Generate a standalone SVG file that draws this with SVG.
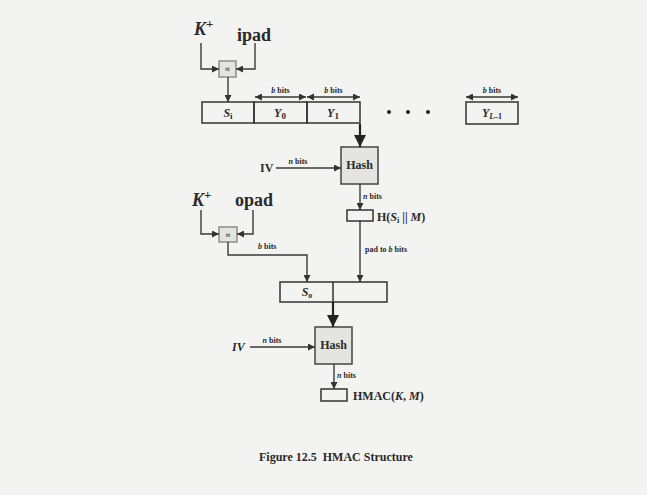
<svg xmlns="http://www.w3.org/2000/svg" width="647" height="495" viewBox="0 0 647 495">
<defs>
<marker id="ah" viewBox="0 0 10 10" refX="10" refY="5" markerWidth="7" markerHeight="7" markerUnits="userSpaceOnUse" orient="auto-start-reverse"><path d="M0,0L10,5L0,10z" fill="#333"/></marker>
<marker id="big" viewBox="0 0 10 10" refX="10" refY="5" markerWidth="12" markerHeight="14" markerUnits="userSpaceOnUse" orient="auto"><path d="M0,0L10,5L0,10z" fill="#222"/></marker>
</defs>
<style>
.bg{fill:#f3f3f2}
.ln{fill:none;stroke:#3a3a3a;stroke-width:1.4}
.thick{fill:none;stroke:#222;stroke-width:2.2}
.box{fill:none;stroke:#333;stroke-width:1.5}
.hash{fill:#e4e4e0;stroke:#444;stroke-width:1.5}
.xor{fill:#e4e4e0;stroke:#777;stroke-width:1.2}
text{font-family:"Liberation Serif",serif;font-weight:bold;fill:#2a2a2a}
.big{font-size:18px}
.lab{font-size:12px}
.sm{font-size:8px}
.it{font-style:italic}
</style>
<rect class="bg" x="0" y="0" width="647" height="495"/>

<g id="kplus1"><text class="big it" x="194" y="35">K<tspan font-size="13" dy="-7" font-style="normal">+</tspan></text></g>
<g id="ipad"><text class="big" x="237" y="41">ipad</text></g>
<g id="xor1"><rect class="xor" x="219" y="61" width="17" height="16"/><text class="sm" x="227.5" y="72" text-anchor="middle" font-size="6">≈</text></g>

<g id="rowSi"><rect class="box" x="202" y="102" width="52" height="21"/><text class="lab it" x="228" y="117" text-anchor="middle">S<tspan font-size="9" dy="2" font-style="normal">i</tspan></text></g>
<g id="rowY0"><rect class="box" x="254" y="102" width="53" height="21"/><text class="lab it" x="280" y="117" text-anchor="middle">Y<tspan font-size="9" dy="2" font-style="normal">0</tspan></text></g>
<g id="rowY1"><rect class="box" x="307" y="102" width="53" height="21"/><text class="lab it" x="333" y="117" text-anchor="middle">Y<tspan font-size="9" dy="2" font-style="normal">1</tspan></text></g>
<g id="dots"><circle cx="389" cy="112" r="2" fill="#222"/><circle cx="408" cy="112" r="2" fill="#222"/><circle cx="428" cy="112" r="2" fill="#222"/></g>
<g id="rowYL"><rect class="box" x="466" y="102" width="52" height="22"/><text class="lab it" x="492" y="117" text-anchor="middle">Y<tspan font-size="8" dy="2">L</tspan><tspan font-size="8" font-style="normal">–1</tspan></text></g>

<g id="hash1"><rect class="hash" x="341" y="147" width="37" height="37"/><text class="lab" x="359.5" y="169" text-anchor="middle">Hash</text></g>
<g id="iv1"><text class="lab" x="260" y="172">IV</text></g>
<g id="inner"><rect class="box" x="347" y="210" width="26" height="11"/><text class="lab" x="377" y="221">H(<tspan font-style="italic">S</tspan><tspan font-size="8" dy="2">i</tspan><tspan dy="-2"> || </tspan><tspan font-style="italic">M</tspan>)</text></g>

<g id="kplus2"><text class="big it" x="192" y="206">K<tspan font-size="13" dy="-7" font-style="normal">+</tspan></text></g>
<g id="opad"><text class="big" x="235" y="206">opad</text></g>
<g id="xor2"><rect class="xor" x="219" y="227" width="18" height="15"/><text class="sm" x="228" y="237.5" text-anchor="middle" font-size="6">≈</text></g>

<g id="So"><rect class="box" x="280" y="282" width="107" height="20"/><line class="box" x1="333" y1="282" x2="333" y2="302"/><text class="lab it" x="307" y="296" text-anchor="middle">S<tspan font-size="8" dy="2" font-style="normal">o</tspan></text></g>

<g id="hash2"><rect class="hash" x="315" y="327" width="37" height="37"/><text class="lab" x="333.5" y="349" text-anchor="middle">Hash</text></g>
<g id="iv2"><text class="lab it" x="232" y="351">IV</text></g>
<g id="hmac"><rect class="box" x="321" y="389" width="26" height="12"/><text class="lab" x="353" y="400">HMAC(<tspan font-style="italic">K</tspan>, <tspan font-style="italic">M</tspan>)</text></g>

<g id="caption"><text class="lab" x="259" y="461" font-size="13">Figure 12.5&#160; HMAC Structure</text></g>

<g id="connectors">
<path class="ln" d="M201,43V69H219" marker-end="url(#ah)"/>
<path class="ln" d="M255,43V69H236" marker-end="url(#ah)"/>
<path class="ln" d="M228,77V102" marker-end="url(#ah)"/>
<path class="ln" d="M255,97H306" marker-start="url(#ah)" marker-end="url(#ah)"/>
<path class="ln" d="M307,97H360" marker-start="url(#ah)" marker-end="url(#ah)"/>
<path class="ln" d="M466,97H518" marker-start="url(#ah)" marker-end="url(#ah)"/>
<text class="sm" x="280.5" y="93" text-anchor="middle"><tspan font-style="italic">b</tspan> bits</text>
<text class="sm" x="333.5" y="93" text-anchor="middle"><tspan font-style="italic">b</tspan> bits</text>
<text class="sm" x="492" y="93" text-anchor="middle"><tspan font-style="italic">b</tspan> bits</text>
<path class="thick" d="M360,124V147" marker-end="url(#big)"/>
<path class="ln" d="M276,168H341" marker-end="url(#ah)"/>
<text class="sm" x="298" y="164" text-anchor="middle"><tspan font-style="italic">n</tspan> bits</text>
<path class="ln" d="M360,184V210" marker-end="url(#ah)"/>
<text class="sm" x="363" y="199"><tspan font-style="italic">n</tspan> bits</text>
<path class="ln" d="M360,221V282" marker-end="url(#ah)"/>
<text class="sm" x="365" y="252">pad to <tspan font-style="italic">b</tspan> bits</text>
<path class="ln" d="M201,210V234H219" marker-end="url(#ah)"/>
<path class="ln" d="M253,210V234H237" marker-end="url(#ah)"/>
<path class="ln" d="M228,242V255H307V282" marker-end="url(#ah)"/>
<text class="sm" x="258" y="249"><tspan font-style="italic">b</tspan> bits</text>
<path class="thick" d="M333,302V327" marker-end="url(#big)"/>
<path class="ln" d="M250,347H315" marker-end="url(#ah)"/>
<text class="sm" x="272" y="343" text-anchor="middle"><tspan font-style="italic">n</tspan> bits</text>
<path class="ln" d="M334,364V389" marker-end="url(#ah)"/>
<text class="sm" x="337" y="378"><tspan font-style="italic">n</tspan> bits</text>
</g>
</svg>
